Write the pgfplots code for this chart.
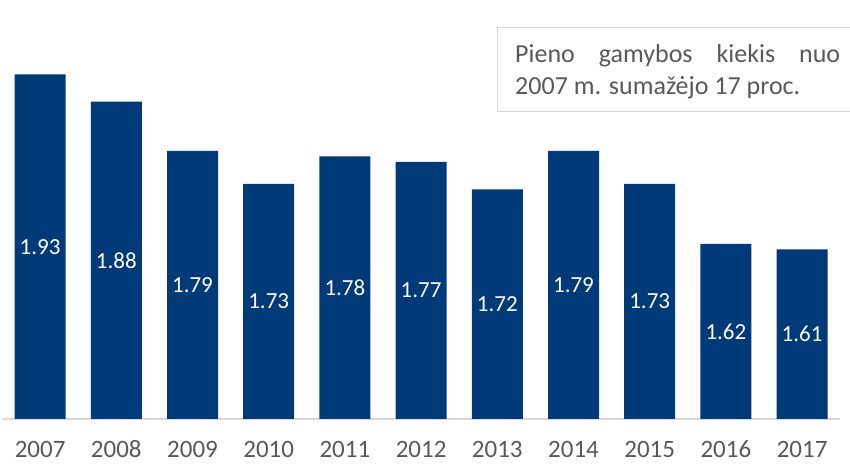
\documentclass[border=0pt]{standalone}
\usepackage{pgfplots}
\pgfplotsset{compat=1.18}
\usepackage{fontspec}
\setmainfont{Carlito}
\definecolor{barblue}{RGB}{0,58,120}
\definecolor{txtgray}{RGB}{89,89,89}
\definecolor{linegray}{RGB}{217,217,217}
\begin{document}
\begin{tikzpicture}
\useasboundingbox (-2pt,-46pt) rectangle (848pt,419pt);
\begin{axis}[
  anchor=south west, at={(0pt,0pt)},
  x=76.2pt, y=547pt,
  xmin=-0.5, xmax=10.5, ymin=1.3, ymax=2.0,
  axis lines*=left,
  y axis line style={draw=none},
  x axis line style={draw=linegray, line width=1.2pt},
  ytick=\empty,
  xtick={0,1,2,3,4,5,6,7,8,9,10},
  xticklabels={2007,2008,2009,2010,2011,2012,2013,2014,2015,2016,2017},
  major tick length=0pt,
  xticklabel style={font=\fontsize{25}{30}\selectfont, text=txtgray, anchor=base, inner sep=0pt, yshift=-38pt},
  /pgf/number format/assume math mode=true,
  ybar, bar width=51pt,
  clip=false,
  nodes near coords,
  visualization depends on={rawy \as \ry},
  nodes near coords style={font=\fontsize{23}{27}\selectfont, text=white, anchor=center, yshift={-(\ry-1.3)*273.5}},
  /pgf/number format/.cd, fixed, fixed zerofill, precision=2,
]
\addplot[fill=barblue, draw=none] coordinates {
  (0,1.93) (1,1.88) (2,1.79) (3,1.73) (4,1.78) (5,1.77)
  (6,1.72) (7,1.79) (8,1.73) (9,1.62) (10,1.61)
};
\end{axis}
\draw[linegray, line width=1pt] (495pt,391pt) rectangle (870pt,307pt);
\node[anchor=base west, inner sep=0pt, text=txtgray, font=\fontsize{26}{31}\selectfont] at (513pt,356pt) {\hbox to 325pt{Pieno\hfill gamybos\hfill kiekis\hfill nuo}};
\node[anchor=base west, inner sep=0pt, text=txtgray, font=\fontsize{26}{31}\selectfont] at (513pt,324pt) {2007 m. sumažėjo 17 proc.};
\end{tikzpicture}
\end{document}
